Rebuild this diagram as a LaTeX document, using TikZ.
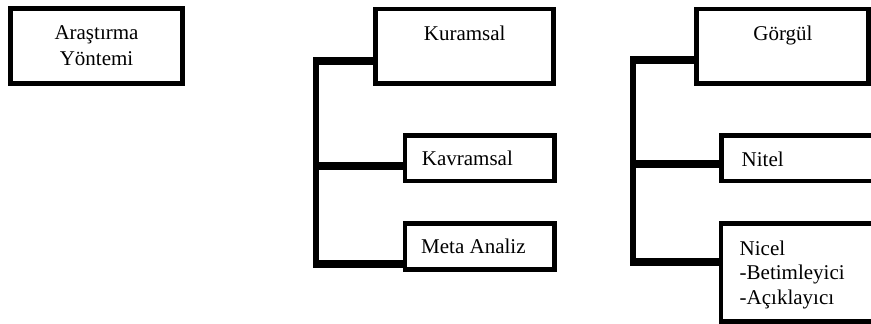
\documentclass[tikz,border=0pt]{standalone}
\usepackage{fontspec}
\setmainfont{Liberation Serif}
\begin{document}
\begin{tikzpicture}[x=1pt, y=-1pt, font=\fontsize{21}{26.4}\selectfont,
  kutu/.style={draw, line width=4.7pt, inner sep=0pt},
  govde/.style={line width=5.6pt},
  dal/.style={line width=8pt},
  yazi/.style={inner sep=0pt}]
\clip (0,0) rectangle (871,324);
\node [kutu, minimum width=172.4, minimum height=75.4] (ara) at (96.5,46) {};
\node [kutu, minimum width=178, minimum height=74.7] (kur) at (464.7,46.3) {};
\node [kutu, minimum width=149.4, minimum height=45.4] (kav) at (479.7,158.3) {};
\node [kutu, minimum width=149.4, minimum height=46] (meta) at (479.7,246.3) {};
\node [kutu, minimum width=172.4, minimum height=74.7] (gor) at (782.5,46.3) {};
\node [kutu, minimum width=160, minimum height=45.4] (nit) at (801.3,158.3) {};
\node [kutu, minimum width=160, minimum height=98.3] (nic) at (801,272.5) {};
\node [yazi, align=center, anchor=base] (araYazi) at (96.5,65.7) {Araştırma\\Yöntemi};
\node [yazi, anchor=base] (kurYazi) at (464.7,40) {Kuramsal};
\node [yazi, anchor=base west] (kavYazi) at (421.7,165) {Kavramsal};
\node [yazi, anchor=base west] (metaYazi) at (421,253.3) {Meta Analiz};
\node [yazi, anchor=base] (gorYazi) at (783,40) {Görgül};
\node [yazi, anchor=base west] (nitYazi) at (741.5,166) {Nitel};
\node [yazi, align=left, anchor=base west, font=\fontsize{21}{24.5}\selectfont] (nicYazi) at (739.5,304) {Nicel\\-Betimleyici\\-Açıklayıcı};
\coordinate (kUst) at (316,61);
\coordinate (kOrta) at (316,165.5);
\coordinate (kAlt) at (316,264);
\coordinate (gUst) at (633,60);
\coordinate (gOrta) at (633,164);
\coordinate (gAlt) at (633,262);
\draw [govde] (kUst) -- (kAlt);
\draw [dal] ([xshift=-2.8pt]kUst) -- (kur.west |- kUst);
\draw [dal] ([xshift=-2.8pt]kOrta) -- (kav.west |- kOrta);
\draw [dal] ([xshift=-2.8pt]kAlt) -- (meta.west |- kAlt);
\draw [govde] (gUst) -- (gAlt);
\draw [dal] ([xshift=-2.8pt]gUst) -- (gor.west |- gUst);
\draw [dal] ([xshift=-2.8pt]gOrta) -- (nit.west |- gOrta);
\draw [dal] ([xshift=-2.8pt]gAlt) -- (nic.west |- gAlt);
\end{tikzpicture}
\end{document}
